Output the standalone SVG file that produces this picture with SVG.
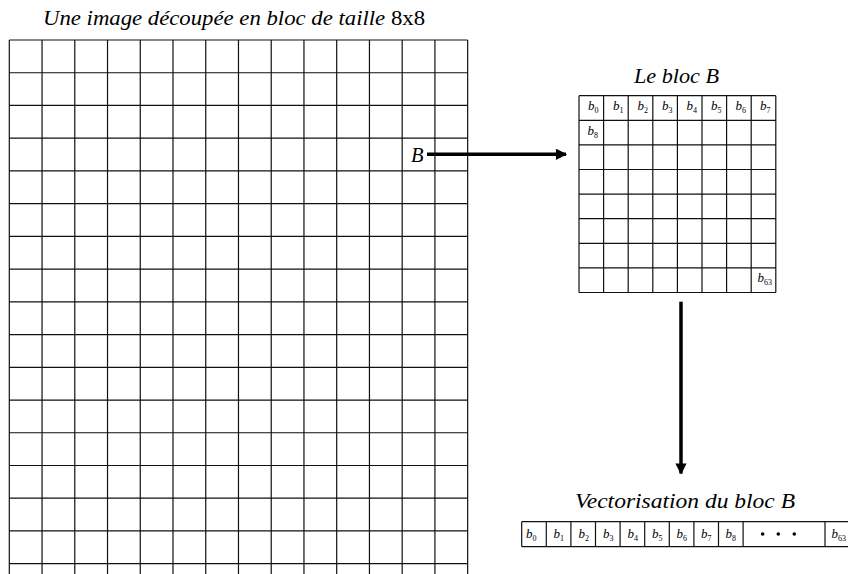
<svg xmlns="http://www.w3.org/2000/svg" width="848" height="574" viewBox="0 0 848 574">
<defs>
<style>
.t{font-family:"Liberation Serif","DejaVu Serif",serif;font-style:italic;fill:#000}
.up{font-style:normal}
.g{stroke:#111;stroke-width:1.2;fill:none}
.lbl{font-family:"Liberation Serif","DejaVu Serif",serif;font-style:italic;font-size:13px;fill:#000}
.sub{font-style:normal;font-size:8px}
.conn{stroke:#000;stroke-width:3.5;fill:none}
</style>
<marker id="ah" viewBox="0 0 10 10" refX="9" refY="5" markerWidth="4.2" markerHeight="3.2" orient="auto" markerUnits="strokeWidth">
<path d="M0,0 L10,5 L0,10 z" fill="#000"/>
</marker>
</defs>
<rect width="848" height="574" fill="#fff"/>

<g id="image">
<text class="t" x="43" y="25" font-size="21.5" textLength="382" lengthAdjust="spacingAndGlyphs">Une image découpée en bloc de taille <tspan class="up">8x8</tspan></text>
<path class="g" d="M9.3,40V574M42.04,40V574M74.78,40V574M107.52,40V574M140.26,40V574M173,40V574M205.74,40V574M238.48,40V574M271.22,40V574M303.96,40V574M336.7,40V574M369.44,40V574M402.18,40V574M434.92,40V574M467.66,40V574
M9.3,40H467.66M9.3,72.73H467.66M9.3,105.46H467.66M9.3,138.19H467.66M9.3,170.92H467.66M9.3,203.65H467.66M9.3,236.38H467.66M9.3,269.11H467.66M9.3,301.84H467.66M9.3,334.57H467.66M9.3,367.3H467.66M9.3,400.03H467.66M9.3,432.76H467.66M9.3,465.49H467.66M9.3,498.22H467.66M9.3,530.95H467.66M9.3,563.68H467.66"/>
<text class="t" x="411" y="161.5" font-size="20.5">B</text>
</g>

<g id="block">
<text class="t" x="634" y="83" font-size="21" textLength="85" lengthAdjust="spacingAndGlyphs">Le bloc B</text>
<path class="g" d="M579,95.7H775.8M579,120.3H775.8M579,144.9H775.8M579,169.5H775.8M579,194.1H775.8M579,218.7H775.8M579,243.3H775.8M579,267.9H775.8M579,292.5H775.8
M579,95.7V292.5M603.6,95.7V292.5M628.2,95.7V292.5M652.8,95.7V292.5M677.4,95.7V292.5M702,95.7V292.5M726.6,95.7V292.5M751.2,95.7V292.5M775.8,95.7V292.5"/>
<text class="lbl" x="588" y="110">b<tspan class="sub" dy="3">0</tspan></text>
<text class="lbl" x="613" y="110">b<tspan class="sub" dy="3">1</tspan></text>
<text class="lbl" x="637.5" y="110">b<tspan class="sub" dy="3">2</tspan></text>
<text class="lbl" x="662" y="110">b<tspan class="sub" dy="3">3</tspan></text>
<text class="lbl" x="686.5" y="110">b<tspan class="sub" dy="3">4</tspan></text>
<text class="lbl" x="711" y="110">b<tspan class="sub" dy="3">5</tspan></text>
<text class="lbl" x="735.5" y="110">b<tspan class="sub" dy="3">6</tspan></text>
<text class="lbl" x="760" y="110">b<tspan class="sub" dy="3">7</tspan></text>
<text class="lbl" x="587.5" y="135">b<tspan class="sub" dy="3">8</tspan></text>
<text class="lbl" x="757.5" y="282">b<tspan class="sub" dy="3">63</tspan></text>
</g>

<g id="vector">
<text class="t" x="575" y="508" font-size="22" textLength="220" lengthAdjust="spacingAndGlyphs">Vectorisation du bloc B</text>
<path class="g" d="M521.7,521.7H848M521.7,546.7H848
M521.7,521.7V546.7M546.3,521.7V546.7M570.9,521.7V546.7M595.5,521.7V546.7M620.1,521.7V546.7M644.7,521.7V546.7M669.3,521.7V546.7M693.9,521.7V546.7M718.5,521.7V546.7M743.1,521.7V546.7M825,521.7V546.7"/>
<text class="lbl" x="526" y="538">b<tspan class="sub" dy="3">0</tspan></text>
<text class="lbl" x="553.5" y="538">b<tspan class="sub" dy="3">1</tspan></text>
<text class="lbl" x="578.5" y="538">b<tspan class="sub" dy="3">2</tspan></text>
<text class="lbl" x="603" y="538">b<tspan class="sub" dy="3">3</tspan></text>
<text class="lbl" x="627.5" y="538">b<tspan class="sub" dy="3">4</tspan></text>
<text class="lbl" x="652" y="538">b<tspan class="sub" dy="3">5</tspan></text>
<text class="lbl" x="676.5" y="538">b<tspan class="sub" dy="3">6</tspan></text>
<text class="lbl" x="701" y="538">b<tspan class="sub" dy="3">7</tspan></text>
<text class="lbl" x="725.5" y="538">b<tspan class="sub" dy="3">8</tspan></text>
<g fill="#000"><circle cx="762.7" cy="534" r="1.8"/><circle cx="778.3" cy="534" r="1.8"/><circle cx="794.3" cy="534" r="1.8"/></g>
<text class="lbl" x="831.5" y="538">b<tspan class="sub" dy="3">63</tspan></text>
</g>

<g id="connectors">
<line class="conn" x1="427" y1="154.3" x2="566" y2="154.3" marker-end="url(#ah)"/>
<line class="conn" x1="681" y1="301.7" x2="681" y2="473.5" marker-end="url(#ah)"/>
</g>
</svg>
